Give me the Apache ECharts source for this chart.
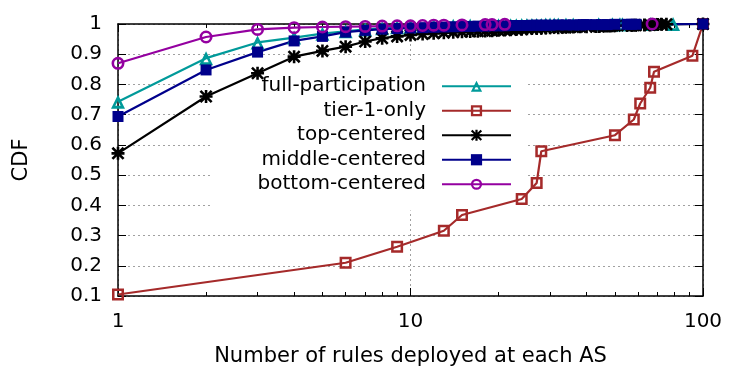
<!DOCTYPE html>
<html>
<head>
<meta charset="utf-8">
<script src="https://cdn.jsdelivr.net/npm/echarts@6/dist/echarts.min.js"></script>
<style>
  html, body { margin: 0; padding: 0; background: #fff; }
  #chart { width: 747px; height: 374px; }
</style>
</head>
<body>
<div id="chart"></div>
<script>
// values
const fullX = [1, 2, 3, 4, 5, 6, 7, 8, 9, 10, 12, 14, 16, 19, 20, 22, 23, 24, 25, 26, 27, 28, 29, 30, 31, 32, 34, 36, 44, 49, 52, 53, 66, 79];
const fullY = [0.743, 0.887, 0.939, 0.955, 0.968, 0.976, 0.982, 0.986, 0.989, 0.991, 0.993, 0.994, 0.995, 0.995, 0.996, 0.996, 0.996, 0.997, 0.997, 0.997, 0.997, 0.997, 0.998, 0.998, 0.998, 0.998, 0.998, 0.998, 0.999, 0.999, 0.999, 0.999, 1.0, 1.0];

const tierX = [1, 6, 9, 13, 15, 24, 27, 28, 50, 58, 61, 66, 68, 92, 100];
const tierY = [0.105, 0.21, 0.263, 0.316, 0.368, 0.421, 0.474, 0.579, 0.632, 0.684, 0.737, 0.789, 0.842, 0.895, 1.0];

const topX = [1, 2, 3, 4, 5, 6, 7, 8, 9, 10, 11, 12, 13, 14, 15, 16, 17, 18, 19, 20, 21, 22, 23, 24, 25, 26, 27, 28, 29, 30, 32, 33, 34, 35, 36, 38, 40, 43, 44, 46, 47, 48, 49, 50, 55, 57, 58, 59, 63, 66, 68, 70, 72, 75, 100];
const topY = [0.572, 0.760, 0.837, 0.892, 0.911, 0.925, 0.942, 0.953, 0.959, 0.964, 0.967, 0.969, 0.971, 0.973, 0.974, 0.975, 0.976, 0.977, 0.978, 0.979, 0.980, 0.981, 0.982, 0.983, 0.984, 0.985, 0.985, 0.986, 0.987, 0.988, 0.988, 0.989, 0.989, 0.990, 0.990, 0.991, 0.991, 0.992, 0.992, 0.993, 0.993, 0.993, 0.994, 0.994, 0.995, 0.995, 0.996, 0.996, 0.997, 0.997, 0.998, 0.998, 0.999, 0.999, 1.0];

const midX = [1, 2, 3, 4, 5, 6, 7, 8, 9, 10, 11, 12, 13, 14, 15, 16, 17, 18, 19, 20, 21, 22, 23, 24, 25, 26, 27, 28, 29, 30, 32, 34, 36, 38, 39, 40, 43, 45, 47, 50, 55, 57, 59, 100];
const midY = [0.694, 0.848, 0.907, 0.944, 0.959, 0.973, 0.979, 0.983, 0.985, 0.987, 0.988, 0.989, 0.990, 0.991, 0.992, 0.992, 0.993, 0.993, 0.994, 0.994, 0.994, 0.995, 0.995, 0.995, 0.995, 0.996, 0.996, 0.996, 0.996, 0.996, 0.997, 0.997, 0.997, 0.997, 0.998, 0.998, 0.998, 0.998, 0.998, 0.999, 0.999, 0.999, 0.999, 1.0];

const botX = [1, 2, 3, 4, 5, 6, 7, 8, 9, 10, 11, 12, 13, 15, 18, 19, 21, 67];
const botY = [0.870, 0.957, 0.982, 0.988, 0.990, 0.991, 0.992, 0.993, 0.994, 0.994, 0.995, 0.996, 0.996, 0.997, 0.998, 0.998, 0.999, 1.0];

const seriesNames = ['full-participation', 'tier-1-only', 'top-centered', 'middle-centered', 'bottom-centered'];
const minorTicks = [2, 3, 4, 5, 6, 7, 8, 9, 20, 30, 40, 50, 60, 70, 80, 90];

const zip = (xs, ys) => xs.map((x, i) => [x, ys[i]]);

// hollow markers so the line shows through, like gnuplot
const triSym = 'path://M50 0L100 90L0 90Z M50 37L31 72L69 72Z';
const boxSym = 'path://M0 0H100V100H0Z M21 21V79H79V21Z';
const ringSym = 'path://M50 0A50 50 0 1 1 50 100A50 50 0 1 1 50 0Z M50 20A30 30 0 1 0 50 80A30 30 0 1 0 50 20Z';
const starSym = 'path://M0 40H100V60H0Z M40 0H60V100H40Z M14 0L100 86L86 100L0 14Z M86 0L100 14L14 100L0 86Z';

const font = 'DejaVu Sans';
const chart = echarts.init(document.getElementById('chart'));

function line(name, data, color, symbol, size) {
  return {
    name: name,
    type: 'line',
    data: data,
    symbol: symbol,
    symbolSize: size,
    clip: false,
    lineStyle: { color: color, width: 2.2 },
    itemStyle: { color: color },
    emphasis: { disabled: true }
  };
}

const logAxis = {
  type: 'log',
  logBase: 10,
  min: 1,
  max: 100,
  gridIndex: 0
};

const option = {
  animation: false,
  backgroundColor: '#fff',
  textStyle: { fontFamily: font },
  grid: { left: 118, right: 44, top: 24, bottom: 78 },
  legend: {
    data: seriesNames,
    orient: 'vertical',
    align: 'right',
    right: 219,
    top: 60,
    padding: [14, 16, 14, 46],
    itemGap: 0,
    itemWidth: 69,
    itemHeight: 14,
    backgroundColor: '#fff',
    z: 1,
    selectedMode: false,
    textStyle: { fontFamily: font, fontSize: 20, color: '#000', lineHeight: 24.5, padding: [0, 11, 0, 0] }
  },
  xAxis: [
    Object.assign({}, logAxis, {
      position: 'bottom',
      name: 'Number of rules deployed at each AS',
      nameLocation: 'middle',
      nameGap: 50,
      nameTextStyle: { fontFamily: font, fontSize: 21, color: '#000' },
      axisLine: { show: true, lineStyle: { color: '#000', width: 1.5 } },
      axisTick: { show: true, inside: true, length: 8, lineStyle: { color: '#000' } },
      axisLabel: { fontFamily: font, fontSize: 20, color: '#000', margin: 16 },
      splitLine: { show: true, lineStyle: { color: '#a0a0a0', type: [2, 3], width: 1 } },
      minorTick: { show: false },
      minorSplitLine: { show: false }
    }),
    Object.assign({}, logAxis, {
      position: 'bottom',
      axisLine: { show: false },
      axisTick: { show: true, inside: true, length: 4, customValues: minorTicks, lineStyle: { color: '#000' } },
      axisLabel: { show: false },
      splitLine: { show: false }
    }),
    Object.assign({}, logAxis, {
      position: 'top',
      axisLine: { show: true, lineStyle: { color: '#000', width: 1.5 } },
      axisTick: { show: true, inside: true, length: 8, lineStyle: { color: '#000' } },
      axisLabel: { show: false },
      splitLine: { show: false }
    }),
    Object.assign({}, logAxis, {
      position: 'top',
      axisLine: { show: false },
      axisTick: { show: true, inside: true, length: 4, customValues: minorTicks, lineStyle: { color: '#000' } },
      axisLabel: { show: false },
      splitLine: { show: false }
    })
  ],
  yAxis: [
    {
      type: 'value',
      position: 'left',
      min: 0.1,
      max: 1,
      interval: 0.1,
      name: 'CDF',
      nameLocation: 'middle',
      nameGap: 86,
      nameTextStyle: { fontFamily: font, fontSize: 21, color: '#000' },
      axisLine: { show: true, lineStyle: { color: '#000', width: 1.5 } },
      axisTick: { show: true, inside: true, length: 8, lineStyle: { color: '#000' } },
      axisLabel: {
        fontFamily: font, fontSize: 20, color: '#000', margin: 16,
        formatter: v => (Math.abs(v - 1) < 1e-9 ? '1' : v.toFixed(1))
      },
      splitLine: { show: true, lineStyle: { color: '#a0a0a0', type: [2, 3], width: 1 } }
    },
    {
      type: 'value',
      position: 'right',
      min: 0.1,
      max: 1,
      interval: 0.1,
      axisLine: { show: true, lineStyle: { color: '#000', width: 1.5 } },
      axisTick: { show: true, inside: true, length: 8, lineStyle: { color: '#000' } },
      axisLabel: { show: false },
      splitLine: { show: false }
    }
  ],
  series: [
    line(seriesNames[0], zip(fullX, fullY), '#009a9a', triSym, 14),
    line(seriesNames[1], zip(tierX, tierY), '#a52a2a', boxSym, 12),
    line(seriesNames[2], zip(topX, topY), '#000000', starSym, 13),
    line(seriesNames[3], zip(midX, midY), '#00008b', 'rect', 11),
    line(seriesNames[4], zip(botX, botY), '#9400a0', ringSym, 13)
  ]
};

chart.setOption(option);
</script>
</body>
</html>
